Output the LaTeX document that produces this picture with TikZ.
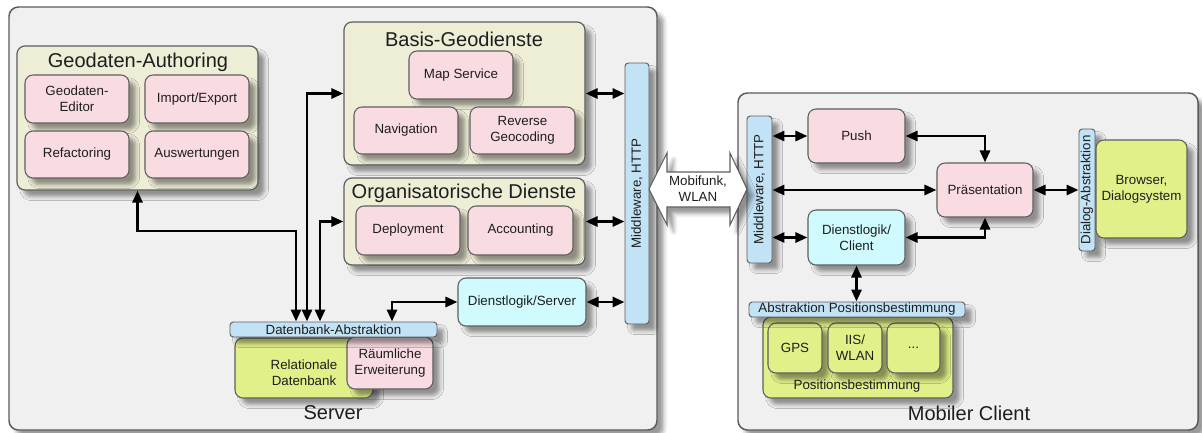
\documentclass[tikz,border=0pt]{standalone}
\usepackage{fontspec}
\setmainfont{Liberation Sans}
\usetikzlibrary{arrows.meta,shadows.blur,calc}

\definecolor{panelbg}{HTML}{F0F0F0}
\definecolor{panelline}{HTML}{5A5A5A}
\definecolor{beige}{HTML}{EEEDD6}
\definecolor{boxline}{HTML}{5E5E5E}
\definecolor{pinkfill}{HTML}{F9DBE2}
\definecolor{cyanfill}{HTML}{CFFAFE}
\definecolor{barfill}{HTML}{C2E2F5}
\definecolor{limefill}{HTML}{E2F08A}
\definecolor{txt}{HTML}{1E1E1E}

\begin{document}
\begin{tikzpicture}[x=0.75pt,y=-0.75pt,
  sz/.style 2 args={minimum width=#1*0.75pt, minimum height=#2*0.75pt},
  every node/.style={font=\fontsize{10}{12}\selectfont, text=txt, inner sep=0pt, align=center},
  softshadow/.style={blur shadow={shadow xshift=5pt, shadow yshift=-5pt, shadow blur radius=3pt, shadow opacity=40}},
  panel/.style={draw=panelline, line width=1.1pt, fill=panelbg, rounded corners=7pt, softshadow},
  group/.style={draw=boxline, line width=0.9pt, fill=beige, rounded corners=6pt, softshadow},
  pinkbox/.style={draw=boxline, line width=0.8pt, fill=pinkfill, rounded corners=6pt, softshadow},
  cyanbox/.style={draw=boxline, line width=0.8pt, fill=cyanfill, rounded corners=6pt, softshadow},
  limebox/.style={draw=boxline, line width=0.8pt, fill=limefill, rounded corners=6pt, softshadow},
  bar/.style={draw=boxline, line width=0.7pt, fill=barfill, rounded corners=2.5pt, softshadow},
  title/.style={font=\fontsize{15}{18}\selectfont},
  link/.style={line width=2.1pt, draw=black,
    {Triangle[length=9pt,width=7.5pt]}-{Triangle[length=9pt,width=7.5pt]}},
]
\useasboundingbox (0,0) rectangle (1202,432);

% ---------------- Server ----------------
\node[panel, sz={648}{423}] (server) at (333,218.5) {};
\node[title] (serverT) at (333,413) {Server};

% Geodaten-Authoring
\node[group, sz={241}{144}] (geo) at (137.5,118) {};
\node[title] (geoT) at (138,62) {Geodaten-Authoring};
\node[pinkbox, sz={104}{48}] (geoed) at (77,99) {Geodaten-\\Editor};
\node[pinkbox, sz={104}{48}] (impex) at (197,99) {Import/Export};
\node[pinkbox, sz={104}{47}] (refac) at (77,154.5) {Refactoring};
\node[pinkbox, sz={104}{47}] (ausw) at (197,154.5) {Auswertungen};

% Basis-Geodienste
\node[group, sz={241}{143}] (basis) at (464.5,93.5) {};
\node[title] (basisT) at (464,39) {Basis-Geodienste};
\node[pinkbox, sz={104}{48}] (map) at (461,75) {Map Service};
\node[pinkbox, sz={104}{47}] (nav) at (406,130.5) {Navigation};
\node[pinkbox, sz={105}{47}] (revgeo) at (522.5,130.5) {Reverse\\Geocoding};

% Organisatorische Dienste
\node[group, sz={241}{87}] (org) at (464.5,221.5) {};
\node[title] (orgT) at (464,193) {Organisatorische Dienste};
\node[pinkbox, sz={104}{49}] (deploy) at (408,230.5) {Deployment};
\node[pinkbox, sz={105}{49}] (account) at (520.5,230.5) {Accounting};

% Dienstlogik and middleware
\node[cyanbox, sz={128}{48}] (dls) at (522,302) {Dienstlogik/Server};
\node[bar, sz={24}{261}] (mw1) at (637,193.5) {};
\node[rotate=90] (mw1T) at (mw1.center) {Middleware, HTTP};

% Database
\node[limebox, sz={138}{60}] (reldb) at (304,368) {};
\node (reldbT) at (304,373) {Relationale\\Datenbank};
\node[pinkbox, sz={86}{52}] (spatial) at (390,363) {Räumliche\\Erweiterung};
\node[bar, sz={207}{15}] (dbabs) at (333.5,329.5) {Datenbank-Abstraktion};

% Server connectors
\coordinate (k1) at (296,231);
\coordinate (k2) at (307,95);
\coordinate (k3) at (320,222);
\coordinate (k4) at (392,302);
\draw[link] (geo.south) |- (k1) -- (k1 |- dbabs.north);
\draw[link] (basis.west) -| (k2 |- dbabs.north);
\draw[link] (org.west) -| (k3 |- dbabs.north);
\draw[link] (dls.west) -| (k4 |- dbabs.north);
\draw[link] (basis.east) -- (basis.east -| mw1.west);
\draw[link] (org.east) -- (org.east -| mw1.west);
\draw[link] (dls.east) -- (dls.east -| mw1.west);

% ---------------- Mobiler Client ----------------
\node[panel, sz={460}{337}] (client) at (968,261.5) {};
\node[title] (clientT) at (969,413) {Mobiler Client};

\node[bar, sz={25}{147}] (mw2) at (759.5,189.5) {};
\node[rotate=90] (mw2T) at (mw2.center) {Middleware, HTTP};
\node[pinkbox, sz={97}{54}] (push) at (856.5,136) {Push};
\node[pinkbox, sz={96}{54}] (pres) at (985,190) {Präsentation};
\node[cyanbox, sz={97}{55}] (dlc) at (856.5,237.5) {Dienstlogik/\\Client};
\node[bar, sz={16}{122}] (dialog) at (1087,190) {};
\node[rotate=90] (dialogT) at (dialog.center) {Dialog-Abstraktion};
\node[limebox, sz={91}{98}] (browser) at (1141.5,189) {Browser,\\Dialogsystem};

% Positioning
\node[limebox, sz={190}{81}] (pos) at (858,357.5) {};
\node (posT) at (857,386) {Positionsbestimmung};
\node[limebox, sz={54}{50}] (gps) at (795,348) {GPS};
\node[limebox, sz={54}{50}] (iis) at (855,348) {IIS/\\WLAN};
\node[limebox, sz={53}{50}] (more) at (913.5,348) {...};
\node[bar, sz={216}{15}] (abspos) at (857,309.5) {Abstraktion Positionsbestimmung};

% Client connectors
\draw[link] (mw2.east |- push.west) -- (push.west);
\draw[link] (push.east) -| (pres.north);
\draw[link] (mw2.east |- pres.west) -- (pres.west);
\draw[link] (pres.east) -- (dialog.west |- pres.east);
\draw[link] (mw2.east |- dlc.west) -- (dlc.west);
\draw[link] (dlc.east) -| (pres.south);
\draw[link] (dlc.south) -- (dlc.south |- abspos.north);

% ---------------- Radio link ----------------
\draw[draw=boxline, line width=0.8pt, fill=white, softshadow]
  (649,189) -- (667,153) -- (667,172) -- (730,172) -- (730,153) -- (747,189)
  -- (730,225) -- (730,207) -- (667,207) -- (667,225) -- cycle;
\node (radio) at (698,189) {Mobifunk,\\WLAN};

\end{tikzpicture}
\end{document}
